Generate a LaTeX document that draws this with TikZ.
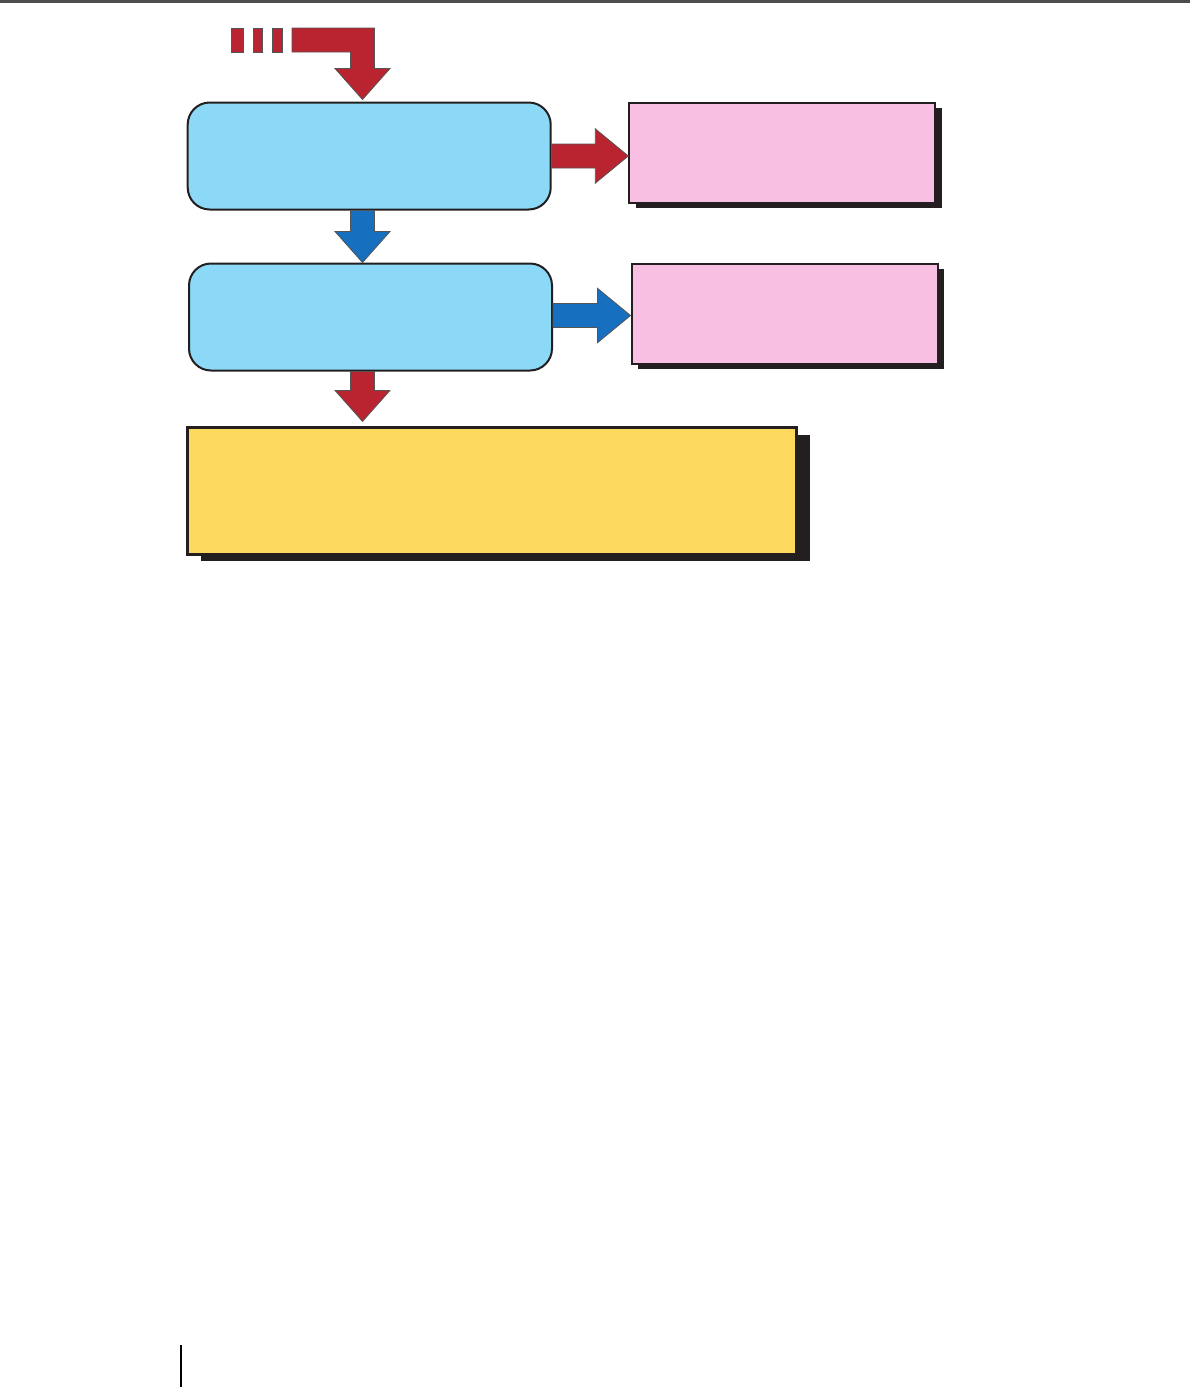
\documentclass[tikz,border=0pt]{standalone}
\usepackage{xcolor}
\usepackage{tikz}
\usetikzlibrary{calc,positioning,shadows}
\definecolor{fcRed}{HTML}{BA2330}
\definecolor{fcBlue}{HTML}{176FBF}
\definecolor{fcSky}{HTML}{8BD9F7}
\definecolor{fcPink}{HTML}{F9BFE3}
\definecolor{fcGold}{HTML}{FCD95D}
\definecolor{fcInk}{HTML}{231F20}
\definecolor{fcRule}{HTML}{4D4D4D}
\definecolor{fcTrim}{HTML}{555555}
\tikzset{
  fc diagram/.style={x=0.5pt, y=-0.5pt, line join=miter},
  fc step box/.style={draw=fcInk, fill=fcSky, line width=1pt,
    rounded corners=11pt, minimum width=181.5pt, minimum height=53.5pt},
  fc note box/.style={draw=fcInk, fill=fcPink, line width=1pt,
    minimum width=153pt, minimum height=50pt,
    drop shadow={shadow xshift=3.25pt, shadow yshift=-2.75pt, fill=fcInk, opacity=1}},
  fc result box/.style={draw=fcInk, fill=fcGold, line width=1.3pt,
    minimum width=304.5pt, minimum height=63.3pt,
    drop shadow={shadow xshift=6.5pt, shadow yshift=-3.5pt, fill=fcInk, opacity=1}},
  fc arrow/.style={draw=fcTrim, line width=0.4pt},
  fc down/.style={fc arrow, to path={let \p1=(\tikztostart), \p2=(\tikztotarget) in
    (\x1-6pt,\y1) -- (\x1-6pt,\y2+15.5pt) -- (\x1-13.75pt,\y2+15.5pt) -- (\x1,\y2)
    -- (\x1+13.75pt,\y2+15.5pt) -- (\x1+6pt,\y2+15.5pt) -- (\x1+6pt,\y1) -- cycle}},
  fc right/.style={fc arrow, to path={let \p1=(\tikztostart), \p2=(\tikztotarget) in
    (\x1,\y1+6pt) -- (\x2-16.5pt,\y1+6pt) -- (\x2-16.5pt,\y1+13.6pt) -- (\x2,\y1)
    -- (\x2-16.5pt,\y1-13.6pt) -- (\x2-16.5pt,\y1-6pt) -- (\x1,\y1-6pt) -- cycle}},
  fc feed/.style={fc arrow, to path={let \p1=(\tikztostart), \p2=(\tikztotarget) in
    (\x1,\y1+6pt) -- (\x2+6pt,\y1+6pt) -- (\x2+6pt,\y2+15.5pt) -- (\x2+13.75pt,\y2+15.5pt)
    -- (\x2,\y2) -- (\x2-13.75pt,\y2+15.5pt) -- (\x2-6pt,\y2+15.5pt) -- (\x2-6pt,\y1-6pt)
    -- (\x1,\y1-6pt) -- cycle}}
}
\begin{document}
\begin{tikzpicture}[fc diagram]
\useasboundingbox (0,0) rectangle (1190,1387);
% page rules
\fill[fcRule] (0,0) rectangle (1190,2.5);
\fill[black] (180,1345) rectangle (182.2,1387);
% boxes
\node[fc step box] (top) at (369.2,156) {};
\node[fc step box] (mid) at (370.5,317) {};
\node[fc note box] (note1) at (782.3,152.7) {};
\node[fc note box] (note2) at (784.5,313.7) {};
\node[fc result box] (result) at (492.2,491) {};
\coordinate (col) at (362.5,0);
\coordinate (feed) at (292,40);
% incoming arrow
\foreach \xa/\xb in {231/243,253/262,272/282}
  \draw[fc arrow, fill=fcRed] (\xa,28) rectangle (\xb,52);
\draw[fc feed, fill=fcRed] (feed) to ([yshift=1pt]col |- top.north);
% connectors
\draw[fc right, fill=fcRed] (top.east) to (top.east -| note1.west);
\draw[fc down, fill=fcBlue] (col |- top.south) to (col |- mid.north);
\draw[fc right, fill=fcBlue] ([yshift=0.75pt]mid.east) to ([yshift=0.75pt]mid.east -| note2.west);
\draw[fc down, fill=fcRed] (col |- mid.south) to ([yshift=2.5pt]col |- result.north);
\end{tikzpicture}
\end{document}
